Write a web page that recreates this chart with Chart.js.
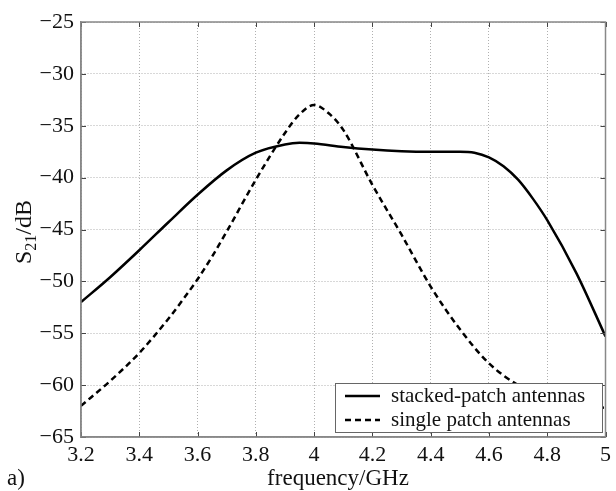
<!DOCTYPE html>
<html>
<head>
<meta charset="utf-8">
<script src="https://cdn.jsdelivr.net/npm/chart.js@4.4.1/dist/chart.umd.min.js"></script>
<style>
  html, body { margin: 0; padding: 0; background: #ffffff; }
  #wrap { width: 616px; height: 491px; }
</style>
</head>
<body>
<div id="wrap"><canvas id="c" width="616" height="491"></canvas></div>
<script>
// ---- data ----
const freqStacked = [3.2, 3.3, 3.4, 3.5, 3.6, 3.7, 3.8, 3.9, 3.95, 4.0, 4.1, 4.2, 4.3, 4.4, 4.5, 4.55, 4.6, 4.65, 4.7, 4.75, 4.8, 4.9, 5.0];
const stackedPatch = [-52.0, -49.6, -47.0, -44.3, -41.65, -39.3, -37.6, -36.8, -36.65, -36.7, -37.05, -37.3, -37.45, -37.5, -37.5, -37.6, -38.05, -38.9, -40.2, -42.0, -44.1, -49.2, -55.3];

const freqSingle = [3.2, 3.3, 3.4, 3.5, 3.55, 3.6, 3.65, 3.7, 3.8, 3.9, 3.95, 4.0, 4.05, 4.1, 4.2, 4.3, 4.4, 4.5, 4.6, 4.7, 4.8, 4.9, 5.0];
const singlePatch = [-62.0, -59.6, -56.9, -53.6, -51.75, -49.8, -47.6, -45.2, -40.2, -35.7, -33.9, -33.0, -33.8, -35.4, -40.7, -45.5, -50.5, -54.6, -57.9, -60.0, -61.3, -61.9, -62.2];

const seriesNames = ["stacked-patch antennas", "single patch antennas"];
const xTickStep = 0.2;
const yTickStep = 5;
const xRange = [3.2, 5.0];
const yRange = [-65, -25];
const xTitle = "frequency/GHz";
const panelLabel = "a)";

const SERIF = '"Liberation Serif", "DejaVu Serif", serif';
const toPts = (xs, ys) => xs.map((x, i) => ({ x: x, y: ys[i] }));
const fmtMinus = v => String(v).replace('-', '\u2212');

const framePlugin = {
  id: 'frame',
  afterDraw(chart) {
    const { ctx, chartArea: a, scales } = chart;
    ctx.save();
    // inward tick marks on all 4 sides
    ctx.strokeStyle = '#444';
    ctx.lineWidth = 1;
    const tl = 5;
    scales.x.ticks.forEach(t => {
      const px = Math.round(scales.x.getPixelForValue(t.value)) + 0.5;
      ctx.beginPath();
      ctx.moveTo(px, a.bottom); ctx.lineTo(px, a.bottom - tl);
      ctx.moveTo(px, a.top); ctx.lineTo(px, a.top + tl);
      ctx.stroke();
    });
    scales.y.ticks.forEach(t => {
      const py = Math.round(scales.y.getPixelForValue(t.value)) + 0.5;
      ctx.beginPath();
      ctx.moveTo(a.left, py); ctx.lineTo(a.left + tl, py);
      ctx.moveTo(a.right, py); ctx.lineTo(a.right - tl, py);
      ctx.stroke();
    });
    // frame
    ctx.strokeStyle = '#888';
    ctx.lineWidth = 1.5;
    ctx.strokeRect(a.left, a.top, a.right - a.left, a.bottom - a.top);

    // legend box inside plot area
    const bx = 335, by = 383, bw = 267, bh = 49;
    ctx.fillStyle = '#fff';
    ctx.fillRect(bx, by, bw, bh);
    ctx.strokeStyle = '#666';
    ctx.lineWidth = 1;
    ctx.strokeRect(bx + 0.5, by + 0.5, bw, bh);
    ctx.font = '21px ' + SERIF;
    ctx.fillStyle = '#111';
    ctx.textBaseline = 'middle';
    ctx.textAlign = 'left';
    const rows = [{ y: by + 13, dash: [] }, { y: by + 37, dash: [6, 4] }];
    rows.forEach((r, i) => {
      ctx.strokeStyle = '#000';
      ctx.lineWidth = 2.5;
      ctx.setLineDash(r.dash);
      ctx.beginPath();
      ctx.moveTo(bx + 10, r.y); ctx.lineTo(bx + 45, r.y);
      ctx.stroke();
      ctx.setLineDash([]);
      ctx.fillText(seriesNames[i], bx + 56, r.y);
    });

    // x title
    ctx.textAlign = 'center';
    ctx.textBaseline = 'alphabetic';
    ctx.font = '23px ' + SERIF;
    ctx.fillStyle = '#111';
    ctx.fillText(xTitle, 338, 485);
    // panel label
    ctx.textAlign = 'left';
    ctx.fillText(panelLabel, 7, 485);

    // y title S21/dB rotated
    ctx.translate(31, 264);
    ctx.rotate(-Math.PI / 2);
    ctx.textAlign = 'left';
    ctx.font = '24px ' + SERIF;
    let x = 0;
    ctx.fillText('S', x, 0);
    x += ctx.measureText('S').width;
    ctx.font = '16px ' + SERIF;
    ctx.fillText('21', x, 5);
    x += ctx.measureText('21').width;
    ctx.font = '24px ' + SERIF;
    ctx.fillText('/dB', x, 0);
    ctx.restore();
  }
};

new Chart(document.getElementById('c'), {
  type: 'line',
  data: {
    datasets: [
      {
        label: seriesNames[0],
        data: toPts(freqStacked, stackedPatch),
        borderColor: '#000',
        borderWidth: 2.5,
        pointRadius: 0,
        cubicInterpolationMode: 'monotone',
        fill: false
      },
      {
        label: seriesNames[1],
        data: toPts(freqSingle, singlePatch),
        borderColor: '#000',
        borderWidth: 2.5,
        borderDash: [6, 4],
        pointRadius: 0,
        cubicInterpolationMode: 'monotone',
        fill: false
      }
    ]
  },
  options: {
    responsive: false,
    animation: false,
    events: [],
    layout: { padding: { top: 22, right: 9, left: 0, bottom: 0 } },
    plugins: { legend: { display: false }, tooltip: { enabled: false } },
    scales: {
      x: {
        type: 'linear',
        min: xRange[0], max: xRange[1],
        afterFit(s) { s.height = 54; },
        ticks: {
          stepSize: xTickStep,
          padding: 5,
          color: '#111',
          font: { family: SERIF, size: 22 },
          maxRotation: 0,
          callback: v => String(parseFloat(v.toFixed(1)))
        },
        grid: { color: '#b0b0b0', lineWidth: 1, drawTicks: false },
        border: { display: true, color: '#888', width: 1.5, dash: [1, 2] }
      },
      y: {
        type: 'linear',
        min: yRange[0], max: yRange[1],
        afterFit(s) { s.width = 81; },
        ticks: {
          stepSize: yTickStep,
          padding: 7,
          color: '#111',
          font: { family: SERIF, size: 22 },
          callback: v => fmtMinus(v)
        },
        grid: { color: '#b0b0b0', lineWidth: 1, drawTicks: false },
        border: { display: true, color: '#888', width: 1.5, dash: [1, 2] }
      }
    }
  },
  plugins: [framePlugin]
});
</script>
</body>
</html>
